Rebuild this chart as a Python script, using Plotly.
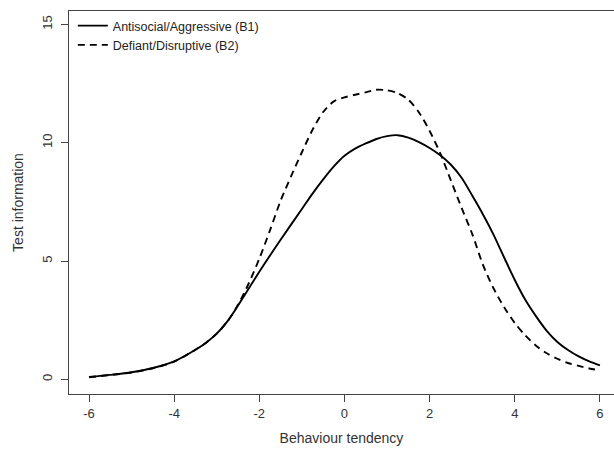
import plotly.graph_objects as go

# Data
x_b1 = [-6, -5.5, -5, -4.5, -4, -3.5, -3.25, -3, -2.75, -2.5, -2, -1.5, -1, -0.75, -0.5, -0.25, 0, 0.25, 0.5,
        0.75, 1.0, 1.25, 1.5, 1.75, 2.0, 2.25, 2.5, 2.75, 3.0, 3.25, 3.5, 3.75, 4.0, 4.25,
        4.5, 4.75, 5.0, 5.25, 5.5, 5.75, 6.0]
y_b1 = [0.10, 0.19, 0.30, 0.48, 0.76, 1.25, 1.55, 1.93, 2.45, 3.12, 4.55, 5.9, 7.2, 7.85, 8.45, 9.0, 9.45, 9.75, 9.97,
        10.16, 10.28, 10.32, 10.22, 10.03, 9.78, 9.47, 9.07, 8.52, 7.77, 6.98, 6.12, 5.15, 4.2, 3.35,
        2.66, 2.05, 1.58, 1.24, 0.97, 0.76, 0.59]

x_b2 = [-6, -5.5, -5, -4.5, -4, -3.5, -3.25, -3, -2.75, -2.5, -2.25, -2, -1.75, -1.5, -1.25, -1, -0.75,
        -0.5, -0.25, 0, 0.25, 0.5, 0.75, 1.0, 1.25, 1.5, 1.75, 2.0, 2.25, 2.5, 2.75, 3.0,
        3.25, 3.5, 3.75, 4.0, 4.25, 4.5, 4.75, 5.0, 5.25, 5.5, 5.75, 6.0]
y_b2 = [0.09, 0.18, 0.29, 0.47, 0.75, 1.25, 1.55, 1.93, 2.45, 3.15, 4.05, 5.1, 6.3, 7.55, 8.6, 9.6, 10.55,
        11.3, 11.75, 11.92, 12.03, 12.13, 12.24, 12.22, 12.1, 11.82, 11.28, 10.5, 9.55, 8.4, 7.25, 6.15,
        4.85, 3.85, 3.05, 2.38, 1.85, 1.42, 1.1, 0.87, 0.69, 0.57, 0.46, 0.38]

name_b1 = "Antisocial/Aggressive (B1)"
name_b2 = "Defiant/Disruptive (B2)"
x_ticks = [-6, -4, -2, 0, 2, 4, 6]
y_ticks = [0, 5, 10, 15]

FONT = "Liberation Sans, Arial, sans-serif"
AX = "#444444"
TXT = "#333333"

fig = go.Figure()
fig.add_trace(go.Scatter(x=x_b1, y=y_b1, mode="lines", name=name_b1,
                         line=dict(color="black", width=1.9, shape="spline", smoothing=0.8)))
fig.add_trace(go.Scatter(x=x_b2, y=y_b2, mode="lines", name=name_b2,
                         line=dict(color="black", width=1.9, dash="7px,5px", shape="spline", smoothing=0.8)))

fig.update_layout(
    width=614, height=454,
    margin=dict(l=69, r=0, t=11, b=60),
    paper_bgcolor="white", plot_bgcolor="white",
    font=dict(family=FONT, size=13, color=TXT),
    showlegend=True,
    legend=dict(x=0.007, y=1.0, xanchor="left", yanchor="top",
                bgcolor="rgba(0,0,0,0)", font=dict(size=12.5, color="#222222"),
                itemwidth=30, tracegroupgap=0),
    xaxis=dict(range=[-6.47, 6.33], tickvals=x_ticks, ticktext=[str(v) for v in x_ticks],
               showgrid=False, zeroline=False, showline=True, mirror=True,
               linecolor=AX, linewidth=1.2, ticks="outside", ticklen=7, tickcolor=AX,
               tickfont=dict(size=13, color=TXT),
               title=dict(text="Behaviour tendency", font=dict(size=14, color=TXT), standoff=13)),
    yaxis=dict(range=[-0.62, 15.57], tickvals=y_ticks, ticktext=[str(v) for v in y_ticks],
               showgrid=False, zeroline=False, showline=True, mirror=False,
               linecolor=AX, linewidth=1.2, ticks="outside", ticklen=7, tickcolor=AX,
               tickangle=-90, tickfont=dict(size=13, color=TXT), ticklabelstandoff=4,
               title=dict(text="Test information", font=dict(size=14, color=TXT), standoff=12)),
)

fig.write_html("out.html")
